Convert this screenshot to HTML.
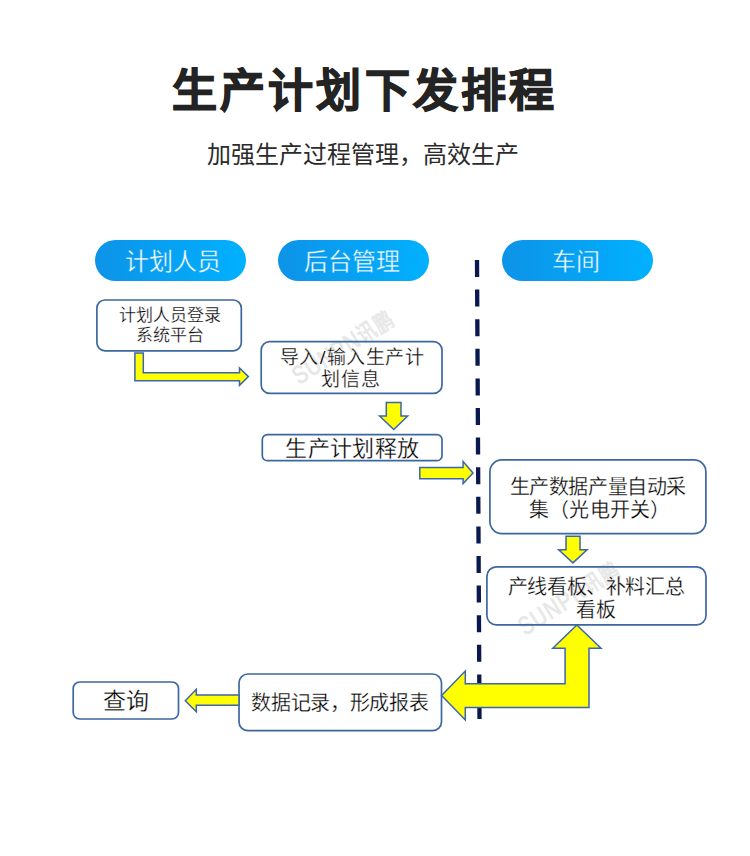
<!DOCTYPE html>
<html lang="zh-CN"><head><meta charset="utf-8">
<style>
html,body{margin:0;padding:0;background:#fff;}
body{width:750px;height:856px;position:relative;overflow:hidden;font-family:"Liberation Sans",sans-serif;}
.t{position:absolute;white-space:nowrap;}
#title{left:0;width:750px;text-align:center;font-weight:bold;color:#232323;line-height:60px;-webkit-text-stroke:1.2px #232323;}
#sub{left:0;width:726px;top:139px;text-align:center;font-size:24px;color:#2b2b2b;line-height:32px;}
.pill{position:absolute;top:240px;height:41px;border-radius:20.5px;background:linear-gradient(90deg,#0d93e8,#00b1ff);color:#fff;font-size:24px;line-height:41px;text-align:center;-webkit-text-stroke:0.4px #06a3f3;}
.bx{position:absolute;white-space:nowrap;width:300px;text-align:center;font-family:"Liberation Serif",serif;color:#000;-webkit-text-stroke:0.28px #fff;}
.sl{margin:0 1px;font-weight:bold;-webkit-text-stroke:0;}
svg{position:absolute;left:0;top:0;}
</style></head><body>
<div class="t" id="title" style="top:62px;font-size:45px;letter-spacing:3.08px;margin-left:-10.46px">生产计划下发排程</div>
<div class="t" id="sub">加强生产过程管理，高效生产</div>
<div class="pill" style="left:95px;width:151px;"><span id="P0" style="position:relative;left:2px;top:1px">计划人员</span></div>
<div class="pill" style="left:278.4px;width:150.3px;"><span id="P1" style="position:relative;left:-2px;top:1px">后台管理</span></div>
<div class="pill" style="left:501.6px;width:151.4px;"><span id="P2" style="position:relative;left:-1px;top:1px">车间</span></div>
<svg width="750" height="856" viewBox="0 0 750 856">
<line x1="477" y1="260" x2="479.5" y2="719" stroke="#0a1850" stroke-width="4.3" stroke-dasharray="17 12.6"/>
<g fill="#fff" stroke="none">
<rect x="96.9" y="300" width="144.4" height="50.8" rx="8"/>
<rect x="261.2" y="341.7" width="180.8" height="51.7" rx="8.5"/>
<rect x="262.3" y="434.7" width="179.7" height="26" rx="5"/>
<rect x="489.9" y="459.9" width="216" height="73.7" rx="12"/>
<rect x="486.9" y="566.9" width="219.1" height="58" rx="9.5"/>
<rect x="239" y="674" width="202.5" height="56.7" rx="9"/>
<rect x="73.2" y="682" width="105.3" height="37" rx="6.5"/>
</g>
<g transform="translate(299,385) rotate(-32.5)"><text x="0" y="0" transform="scale(0.8,1)" font-family="Liberation Sans" font-size="25" stroke="#e8e8e8" stroke-width="0.8" fill="#e6e6e6" letter-spacing="1.5">SUNPN<tspan font-size="23">讯鹏</tspan></text></g>
<g transform="translate(525,636) rotate(-32.5)"><text x="0" y="0" transform="scale(0.8,1)" font-family="Liberation Sans" font-size="25" stroke="#e8e8e8" stroke-width="0.8" fill="#e6e6e6" letter-spacing="1.5">SUNPN<tspan font-size="23">讯鹏</tspan></text></g>
<g fill="none" stroke="#3d679f" stroke-width="1.7">
<rect x="96.9" y="300" width="144.4" height="50.8" rx="8"/>
<rect x="261.2" y="341.7" width="180.8" height="51.7" rx="8.5"/>
<rect x="262.3" y="434.7" width="179.7" height="26" rx="5"/>
<rect x="489.9" y="459.9" width="216" height="73.7" rx="12"/>
<rect x="486.9" y="566.9" width="219.1" height="58" rx="9.5"/>
<rect x="239" y="674" width="202.5" height="56.7" rx="9"/>
<rect x="73.2" y="682" width="105.3" height="37" rx="6.5"/>
</g>
<g fill="#ffff00" stroke="#3b66ad" stroke-width="1.5">
<polygon points="134.9,353 143.3,353 143.3,372.7 239.5,372.7 239.5,368 248.4,376.6 239.5,385.4 239.5,380.7 134.9,380.7"/>
<polygon points="386.3,402.5 401,402.5 401,416 407.7,416 393.8,429.5 379.6,416 386.3,416"/>
<polygon points="419.8,467.5 463.1,467.5 463.1,461.4 473,472.9 463.1,483.6 463.1,478.7 419.8,478.7"/>
<polygon points="566,536.3 580,536.3 580,549.7 587.1,549.7 572.9,562.9 558.7,549.7 566,549.7"/>
<polygon points="441.6,695.6 465.3,671 465.3,683.7 565.1,683.7 565.1,648.3 552.8,648.3 576.8,625 601,648.3 589,648.3 589,707.4 465.3,707.4 465.3,720"/>
<polygon points="185.3,700.7 196.3,689.3 196.3,695 239,695 239,705.3 196.3,705.3 196.3,711.7"/>
</g>
</svg>
<div class="bx" id="L0" style="left:20.30000000000001px;top:306px;font-size:17px;line-height:20.4px;">计划人员登录</div>
<div class="bx" id="L1" style="left:20.099999999999994px;top:326px;font-size:17px;line-height:20.4px;">系统平台</div>
<div class="bx" id="L2" style="left:202.10000000000002px;top:346.5px;font-size:19px;line-height:22.8px;letter-spacing:0.5px">导入<span class='sl'>/</span>输入生产计</div>
<div class="bx" id="L3" style="left:200.89999999999998px;top:369px;font-size:19px;line-height:22.8px;letter-spacing:0.6px">划信息</div>
<div class="bx" id="L4" style="left:202.5px;top:435.5px;font-size:22px;line-height:26.4px;letter-spacing:0.4px">生产计划释放</div>
<div class="bx" id="L5" style="left:447.9px;top:475px;font-size:20px;line-height:24.0px;letter-spacing:-0.4px">生产数据产量自动采</div>
<div class="bx" id="L6" style="left:449.70000000000005px;top:497.5px;font-size:20px;line-height:24.0px;letter-spacing:0.28px">集（光电开关）</div>
<div class="bx" id="L7" style="left:446px;top:575px;font-size:20px;line-height:24.0px;letter-spacing:-0.35px">产线看板、补料汇总</div>
<div class="bx" id="L8" style="left:446.29999999999995px;top:598px;font-size:20px;line-height:24.0px;">看板</div>
<div class="bx" id="L9" style="left:189.89999999999998px;top:691.3px;font-size:20px;line-height:24.0px;letter-spacing:-0.35px">数据记录，形成报表</div>
<div class="bx" id="L10" style="left:-24.099999999999994px;top:688px;font-size:23px;line-height:27.6px;">查询</div>
</body></html>
